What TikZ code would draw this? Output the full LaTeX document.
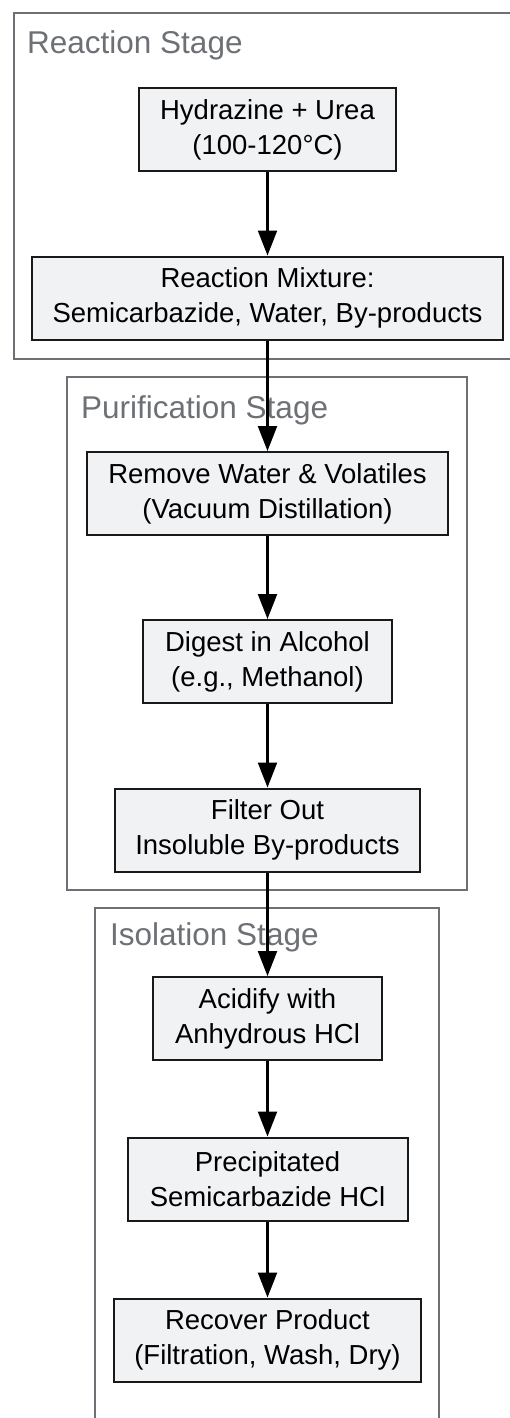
\documentclass[tikz,border=0pt]{standalone}
\usepackage{fontspec}
\setmainfont{Liberation Sans}
\usetikzlibrary{arrows.meta}
\definecolor{boxfill}{HTML}{F1F2F4}
\definecolor{framegray}{HTML}{6D7075}
\begin{document}
\begin{tikzpicture}[x=1pt,y=-1pt,
    stepbox/.style={draw=black!90,line width=2pt,fill=boxfill,align=center,
      minimum height=83pt,inner xsep=0pt,font=\fontsize{27.5}{35}\selectfont},
    stage/.style={draw=framegray,line width=2pt},
    stagetitle/.style={anchor=base west,text=framegray,inner sep=0pt,
      font=\fontsize{31.5}{36}\selectfont},
    flow/.style={line width=2.2pt,-{Triangle[length=25pt,width=19pt]}}]
  \path[use as bounding box,clip] (0,0) rectangle (510,1418);
  % stage frames
  \draw[stage] (14,13) rectangle (530,359);
  \draw[stage] (67,377) rectangle (467,890);
  \draw[stage] (95,908) rectangle (439,1440);
  \node[stagetitle] (reaction) at (27,54) {Reaction Stage};
  \node[stagetitle] (purification) at (81,418) {Purification Stage};
  \node[stagetitle] (isolation) at (110,945) {Isolation Stage};
  % process steps
  \foreach \y/\w/\txt [count=\i] in {
      129.5/257/{Hydrazine + Urea\\(100-120°C)},
      298/471/{Reaction Mixture:\\Semicarbazide, Water, By-products},
      493.5/361/{Remove Water \& Volatiles\\(Vacuum Distillation)},
      661.5/249/{Digest in Alcohol\\(e.g., Methanol)},
      830/305/{Filter Out\\Insoluble By-products},
      1018.5/229/{Acidify with\\Anhydrous HCl},
      1179/280/{Precipitated\\Semicarbazide HCl},
      1340/307/{Recover Product\\(Filtration, Wash, Dry)}} {
    \node[stepbox,minimum width=\w pt] (b\i) at (267.5,\y) {\txt};
  }
  \foreach \i in {1,...,7} {
    \pgfmathtruncatemacro{\j}{\i+1}
    \draw[flow] (b\i) -- (b\j);
  }
\end{tikzpicture}
\end{document}
